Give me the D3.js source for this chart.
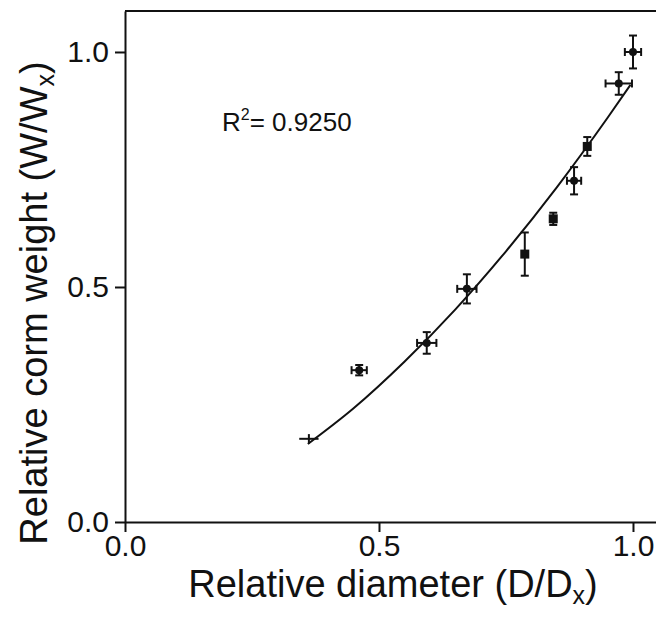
<!DOCTYPE html>
<html>
<head>
    <meta charset="UTF-8">
    <title>Relative corm weight</title>
    <script src="https://d3js.org/d3.v7.min.js"></script>
    <style>
        body { margin: 0; background: #fff; }
        text { font-family: "Liberation Sans", Arial, sans-serif; fill: #111; }
    </style>
</head>
<body>
    <div id="chart"></div>
    <script type="text/javascript">
        // measured points (D/Dx, W/Wx) with error bars
        const diam = [0.362, 0.461, 0.594, 0.673, 0.787, 0.843, 0.884, 0.910, 0.972, 1.000];
        const weight = [0.177, 0.323, 0.381, 0.496, 0.570, 0.645, 0.726, 0.799, 0.933, 1.000];
        const diamErr = [0.019, 0.015, 0.019, 0.019, 0.000, 0.000, 0.014, 0.000, 0.026, 0.016];
        const weightErr = [0.010, 0.011, 0.023, 0.031, 0.046, 0.013, 0.029, 0.020, 0.024, 0.035];
        const marker = ["none", "circle", "circle", "circle", "square", "square", "circle", "square", "circle", "circle"];

        // fitted curve
        const fitX = [0.36, 0.45, 0.55, 0.65, 0.75, 0.85, 0.95, 0.995];
        const fitY = [0.166, 0.242, 0.341, 0.452, 0.576, 0.712, 0.860, 0.930];

        const tickValues = [0, 0.5, 1.0];
        const rSquared = "0.9250";

        const width = 656;
        const height = 619;
        const mLeft = 125, mTop = 11, mBottom = 522;

        const x = d3.scaleLinear().domain([0, 1.0453]).range([mLeft, width]);
        const y = d3.scaleLinear().domain([0, 1.0872]).range([mBottom, mTop]);

        const svg = d3.select("#chart")
            .append("svg")
            .attr("width", width)
            .attr("height", height);

        const fmt = d3.format(".1f");

        const yAxis = svg.append("g")
            .attr("transform", "translate(" + mLeft + ",0)")
            .call(d3.axisLeft(y).tickValues(tickValues).tickFormat(fmt).tickSize(10).tickSizeOuter(0).tickPadding(6));
        const xAxis = svg.append("g")
            .attr("transform", "translate(0," + mBottom + ")")
            .call(d3.axisBottom(x).tickValues(tickValues).tickFormat(fmt).tickSize(10).tickSizeOuter(0).tickPadding(3));

        [xAxis, yAxis].forEach(function (a) {
            a.selectAll("path.domain").attr("stroke", "#111").attr("stroke-width", 2);
            a.selectAll(".tick line").attr("stroke", "#111").attr("stroke-width", 2);
            a.selectAll(".tick text").attr("font-size", 30).attr("fill", "#111")
                .style("font-family", "'Liberation Sans', Arial, sans-serif");
        });
        xAxis.selectAll(".tick text").attr("dy", "0.7em");

        // top frame line
        svg.append("line")
            .attr("x1", mLeft).attr("x2", width)
            .attr("y1", mTop).attr("y2", mTop)
            .attr("stroke", "#111").attr("stroke-width", 2);

        // fitted curve
        const line = d3.line()
            .x(function (d, i) { return x(fitX[i]); })
            .y(function (d, i) { return y(fitY[i]); })
            .curve(d3.curveMonotoneX);
        svg.append("path")
            .datum(fitX)
            .attr("d", line)
            .attr("fill", "none")
            .attr("stroke", "#111")
            .attr("stroke-width", 2);

        // error bars and markers
        const cap = 4;
        const pts = svg.append("g").selectAll("g")
            .data(diam)
            .enter()
            .append("g")
            .attr("stroke", "#111")
            .attr("stroke-width", 2)
            .attr("fill", "#111");

        pts.each(function (d, i) {
            const g = d3.select(this);
            const cx = x(d), cy = y(weight[i]);
            const withCaps = marker[i] !== "none";
            if (weightErr[i] > 0) {
                const y1 = y(weight[i] - weightErr[i]), y2 = y(weight[i] + weightErr[i]);
                g.append("line").attr("x1", cx).attr("x2", cx).attr("y1", y1).attr("y2", y2);
                if (withCaps) {
                    g.append("line").attr("x1", cx - cap).attr("x2", cx + cap).attr("y1", y1).attr("y2", y1);
                    g.append("line").attr("x1", cx - cap).attr("x2", cx + cap).attr("y1", y2).attr("y2", y2);
                }
            }
            if (diamErr[i] > 0) {
                const x1 = x(d - diamErr[i]), x2 = x(d + diamErr[i]);
                g.append("line").attr("x1", x1).attr("x2", x2).attr("y1", cy).attr("y2", cy);
                if (withCaps) {
                    g.append("line").attr("x1", x1).attr("x2", x1).attr("y1", cy - cap).attr("y2", cy + cap);
                    g.append("line").attr("x1", x2).attr("x2", x2).attr("y1", cy - cap).attr("y2", cy + cap);
                }
            }
            if (marker[i] === "circle") {
                g.append("circle").attr("cx", cx).attr("cy", cy).attr("r", 4).attr("stroke", "none");
            } else if (marker[i] === "square") {
                g.append("rect").attr("x", cx - 4.5).attr("y", cy - 4.5)
                    .attr("width", 9).attr("height", 9).attr("stroke", "none");
            }
        });

        // R squared annotation
        const r2 = svg.append("text")
            .attr("x", 222)
            .attr("y", 131)
            .attr("font-size", 26);
        r2.append("tspan").text("R");
        r2.append("tspan").attr("font-size", 16).attr("dy", -11).text("2");
        r2.append("tspan").attr("dy", 11).text("= " + rSquared);

        // axis titles
        const xTitle = svg.append("text")
            .attr("x", 393)
            .attr("y", 597)
            .attr("text-anchor", "middle")
            .attr("font-size", 38);
        xTitle.append("tspan").text("Relative diameter (D/D");
        xTitle.append("tspan").attr("font-size", 25).attr("dy", 7).text("x");
        xTitle.append("tspan").attr("dy", -7).text(")");

        const yTitle = svg.append("text")
            .attr("transform", "translate(47,303)rotate(-90)")
            .attr("text-anchor", "middle")
            .attr("font-size", 38);
        yTitle.append("tspan").text("Relative corm weight (W/W");
        yTitle.append("tspan").attr("font-size", 25).attr("dy", 7).text("x");
        yTitle.append("tspan").attr("dy", -7).text(")");
    </script>
</body>
</html>
